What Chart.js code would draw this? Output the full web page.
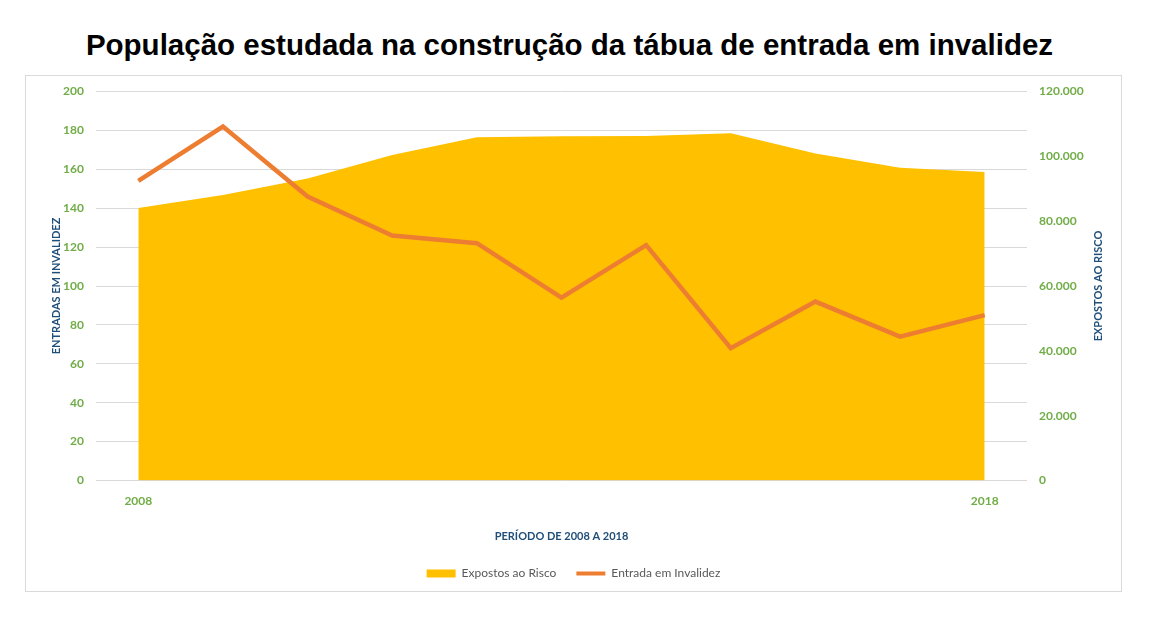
<!DOCTYPE html>
<html lang="pt-BR">
<head>
<meta charset="utf-8">
<title>População estudada na construção da tábua de entrada em invalidez</title>
<script src="https://cdn.jsdelivr.net/npm/chart.js@4.4.1/dist/chart.umd.min.js"></script>
<style>
  html, body { margin: 0; padding: 0; background: #fff; }
  body { width: 1151px; height: 624px; position: relative; overflow: hidden; }
  #titulo {
    position: absolute; left: 0; top: 25px; width: 1139px;
    text-align: center; font-family: "Liberation Sans", Arial, sans-serif;
    font-weight: bold; font-size: 29.5px; color: #000; line-height: 40px;
  }
  #caixa {
    position: absolute; left: 25px; top: 75px; width: 1097px; height: 517px;
    box-sizing: border-box; border: 1px solid #d9d9d9;
  }
  #grafico-wrap { position: absolute; left: 0; top: 0; width: 1095px; height: 515px; }
</style>
</head>
<body>
<div id="titulo">População estudada na construção da tábua de entrada em invalidez</div>
<div id="caixa">
  <div id="grafico-wrap"><canvas id="grafico"></canvas></div>
</div>
<script>
// Dados
const anos = ['2008', '2009', '2010', '2011', '2012', '2013', '2014', '2015', '2016', '2017', '2018'];
const anosVisiveis = ['2008', '2018'];
const expostosAoRisco = [84100, 88100, 93200, 100400, 105900, 106200, 106300, 107100, 100900, 96500, 95200];
const entradaEmInvalidez = [154, 182, 146, 126, 122, 94, 121, 68, 92, 74, 85];

const VERDE = '#70AD47';
const AZUL = '#1F4E79';
const FONTE = 'Lato, "Open Sans", sans-serif';
const TITULO_DIREITO = 'EXPOSTOS AO RISCO';

const milhar = v => String(v).replace(/\B(?=(\d{3})+(?!\d))/g, '.');

// título do eixo direito lido de baixo para cima, como no Excel
const tituloEixoDireito = {
  id: 'tituloEixoDireito',
  afterDraw(chart) {
    const s = chart.scales.y1;
    const ctx = chart.ctx;
    ctx.save();
    ctx.translate(s.right - 23, (chart.chartArea.top + chart.chartArea.bottom) / 2);
    ctx.rotate(-Math.PI / 2);
    ctx.textAlign = 'center';
    ctx.textBaseline = 'middle';
    ctx.fillStyle = AZUL;
    ctx.font = 'bold 11px ' + FONTE;
    ctx.fillText(TITULO_DIREITO, 0, 0);
    ctx.restore();
  }
};

// larguras fixas dos eixos verticais e sem folga extra em cima
const fixaEixoY = largura => scale => {
  scale.width = largura;
  scale.paddingTop = 0;
  scale.paddingBottom = 0;
};

new Chart(document.getElementById('grafico'), {
  type: 'line',
  data: {
    labels: anos,
    datasets: [
      {
        label: 'Expostos ao Risco',
        data: expostosAoRisco,
        yAxisID: 'y1',
        fill: 'origin',
        backgroundColor: '#FFC000',
        borderColor: '#FFC000',
        borderWidth: 0,
        pointRadius: 0,
        pointStyle: 'rect',
        tension: 0,
        order: 2
      },
      {
        label: 'Entrada em Invalidez',
        data: entradaEmInvalidez,
        yAxisID: 'y',
        fill: false,
        borderColor: '#ED7D31',
        backgroundColor: '#ED7D31',
        borderWidth: 4.5,
        pointRadius: 0,
        pointStyle: 'line',
        tension: 0,
        order: 1
      }
    ]
  },
  plugins: [tituloEixoDireito],
  options: {
    responsive: true,
    maintainAspectRatio: false,
    animation: false,
    layout: { padding: { left: 0, right: 0, top: 15.5, bottom: 1.5 } },
    plugins: {
      title: { display: false },
      tooltip: { enabled: false },
      legend: {
        position: 'bottom',
        labels: {
          usePointStyle: true,
          pointStyleWidth: 29,
          boxHeight: 8,
          padding: 20,
          color: '#595959',
          font: { family: FONTE, size: 12 },
          generateLabels(chart) {
            return chart.data.datasets.map((ds, i) => ({
              text: ds.label,
              datasetIndex: i,
              fillStyle: ds.backgroundColor,
              strokeStyle: ds.borderColor,
              lineWidth: i === 0 ? 0 : 4,
              pointStyle: ds.pointStyle,
              fontColor: '#595959',
              hidden: false
            }));
          }
        }
      }
    },
    scales: {
      x: {
        offset: true,
        grid: { display: false, drawTicks: false },
        border: { display: false },
        afterFit(scale) { scale.height = 67; },
        ticks: {
          padding: 13,
          autoSkip: false,
          maxRotation: 0,
          color: VERDE,
          font: { family: FONTE, size: 12, weight: 'bold' },
          callback(value) {
            const rotulo = this.getLabelForValue(value);
            return anosVisiveis.includes(rotulo) ? rotulo : '';
          }
        },
        title: {
          display: true,
          text: 'PERÍODO DE 2008 A 2018',
          color: AZUL,
          font: { family: FONTE, size: 11, weight: 'bold' },
          padding: { top: 0, bottom: 4 }
        }
      },
      y: {
        position: 'left',
        min: 0,
        max: 200,
        grid: { color: '#D9D9D9', lineWidth: 1, drawTicks: false },
        border: { display: false },
        afterFit: fixaEixoY(70),
        ticks: {
          stepSize: 20,
          padding: 12,
          color: VERDE,
          font: { family: FONTE, size: 12, weight: 'bold' }
        },
        title: {
          display: true,
          text: 'ENTRADAS EM INVALIDEZ',
          color: AZUL,
          font: { family: FONTE, size: 11, weight: 'bold' },
          padding: { top: 23.4, bottom: 0 }
        }
      },
      y1: {
        position: 'right',
        min: 0,
        max: 120000,
        grid: { display: false, drawTicks: false },
        border: { display: false },
        afterFit: fixaEixoY(94),
        ticks: {
          stepSize: 20000,
          padding: 12,
          color: VERDE,
          font: { family: FONTE, size: 12, weight: 'bold' },
          callback: v => milhar(v)
        }
      }
    }
  }
});
</script>
</body>
</html>
